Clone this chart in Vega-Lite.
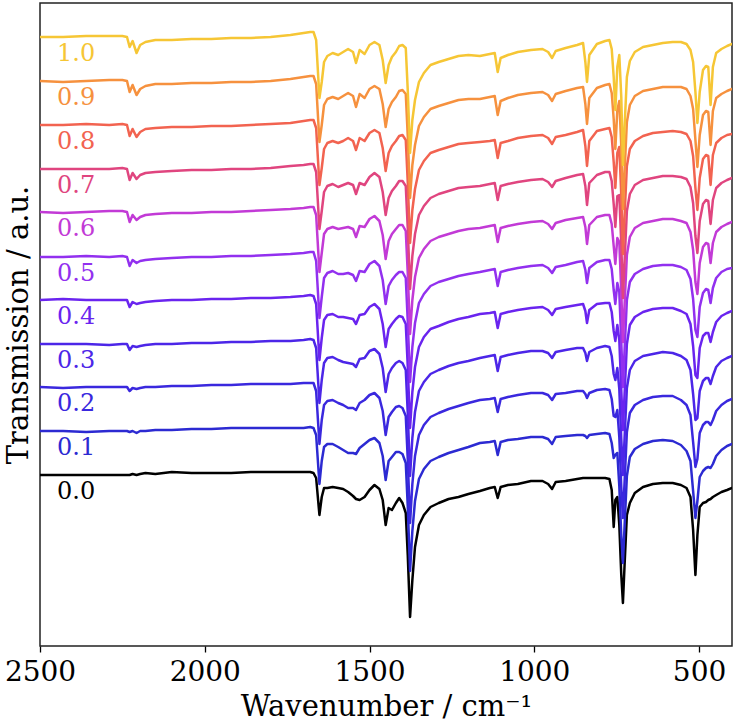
{
"$schema":"https://vega.github.io/schema/vega-lite/v6.json",
"width":692,"height":643,
"autosize":{"type":"none"},
"padding":{"left":40,"top":3,"right":4,"bottom":80},
"background":"white",
"config":{"view":{"stroke":"#222222","strokeWidth":1.5},"font":"DejaVu Serif"},
"data":{"values":[
{"s":"0.0","w":2500,"v":171},{"s":"0.0","w":2430,"v":171},{"s":"0.0","w":2360,"v":171},{"s":"0.0","w":2290,"v":171},{"s":"0.0","w":2250,"v":171},{"s":"0.0","w":2236,"v":171},{"s":"0.0","w":2228,"v":171},{"s":"0.0","w":2219,"v":172},{"s":"0.0","w":2207,"v":171},{"s":"0.0","w":2196,"v":172},
{"s":"0.0","w":2180,"v":173},{"s":"0.0","w":2150,"v":172},{"s":"0.0","w":2100,"v":174},{"s":"0.0","w":2040,"v":173},{"s":"0.0","w":1980,"v":173},{"s":"0.0","w":1920,"v":173},{"s":"0.0","w":1860,"v":174},{"s":"0.0","w":1800,"v":174},{"s":"0.0","w":1740,"v":174},{"s":"0.0","w":1700,"v":174},
{"s":"0.0","w":1680,"v":174},{"s":"0.0","w":1670,"v":173},{"s":"0.0","w":1662,"v":168},{"s":"0.0","w":1652,"v":131},{"s":"0.0","w":1645,"v":149},{"s":"0.0","w":1638,"v":158},{"s":"0.0","w":1628,"v":158},{"s":"0.0","w":1612,"v":159},{"s":"0.0","w":1595,"v":158},{"s":"0.0","w":1580,"v":157},
{"s":"0.0","w":1565,"v":154},{"s":"0.0","w":1550,"v":150},{"s":"0.0","w":1541,"v":147},{"s":"0.0","w":1530,"v":146},{"s":"0.0","w":1515,"v":149},{"s":"0.0","w":1500,"v":156},{"s":"0.0","w":1485,"v":161},{"s":"0.0","w":1470,"v":157},{"s":"0.0","w":1460,"v":146},{"s":"0.0","w":1451,"v":121},
{"s":"0.0","w":1442,"v":138},{"s":"0.0","w":1432,"v":136},{"s":"0.0","w":1420,"v":143},{"s":"0.0","w":1410,"v":148},{"s":"0.0","w":1400,"v":143},{"s":"0.0","w":1390,"v":133},{"s":"0.0","w":1384,"v":91},{"s":"0.0","w":1377,"v":29},{"s":"0.0","w":1370,"v":66},{"s":"0.0","w":1362,"v":99},
{"s":"0.0","w":1350,"v":121},{"s":"0.0","w":1335,"v":131},{"s":"0.0","w":1315,"v":139},{"s":"0.0","w":1290,"v":143},{"s":"0.0","w":1260,"v":147},{"s":"0.0","w":1230,"v":149},{"s":"0.0","w":1200,"v":152},{"s":"0.0","w":1165,"v":155},{"s":"0.0","w":1135,"v":158},{"s":"0.0","w":1120,"v":159},
{"s":"0.0","w":1111,"v":148},{"s":"0.0","w":1102,"v":159},{"s":"0.0","w":1080,"v":161},{"s":"0.0","w":1050,"v":162},{"s":"0.0","w":1010,"v":165},{"s":"0.0","w":975,"v":165},{"s":"0.0","w":958,"v":162},{"s":"0.0","w":946,"v":157},{"s":"0.0","w":935,"v":164},{"s":"0.0","w":905,"v":165},
{"s":"0.0","w":870,"v":167},{"s":"0.0","w":852,"v":168},{"s":"0.0","w":845,"v":168},{"s":"0.0","w":840,"v":168},{"s":"0.0","w":833,"v":168},{"s":"0.0","w":810,"v":168},{"s":"0.0","w":785,"v":168},{"s":"0.0","w":772,"v":167},{"s":"0.0","w":765,"v":156},{"s":"0.0","w":759,"v":119},
{"s":"0.0","w":754,"v":146},{"s":"0.0","w":748,"v":149},{"s":"0.0","w":742,"v":121},{"s":"0.0","w":736,"v":71},{"s":"0.0","w":731,"v":43},{"s":"0.0","w":726,"v":81},{"s":"0.0","w":719,"v":131},{"s":"0.0","w":710,"v":143},{"s":"0.0","w":695,"v":153},{"s":"0.0","w":670,"v":159},
{"s":"0.0","w":640,"v":162},{"s":"0.0","w":610,"v":163},{"s":"0.0","w":580,"v":163},{"s":"0.0","w":555,"v":161},{"s":"0.0","w":538,"v":158},{"s":"0.0","w":526,"v":149},{"s":"0.0","w":518,"v":116},{"s":"0.0","w":511,"v":71},{"s":"0.0","w":505,"v":111},{"s":"0.0","w":498,"v":139},
{"s":"0.0","w":488,"v":143},{"s":"0.0","w":479,"v":144},{"s":"0.0","w":472,"v":146},{"s":"0.0","w":465,"v":147},{"s":"0.0","w":458,"v":149},{"s":"0.0","w":448,"v":151},{"s":"0.0","w":432,"v":154},{"s":"0.0","w":415,"v":156},{"s":"0.0","w":400,"v":158},

{"s":"0.1","w":2500,"v":215},{"s":"0.1","w":2430,"v":215},{"s":"0.1","w":2360,"v":214},{"s":"0.1","w":2290,"v":215},{"s":"0.1","w":2250,"v":215},{"s":"0.1","w":2236,"v":215},{"s":"0.1","w":2228,"v":214},{"s":"0.1","w":2219,"v":215},{"s":"0.1","w":2207,"v":213},{"s":"0.1","w":2196,"v":215},
{"s":"0.1","w":2180,"v":215},{"s":"0.1","w":2150,"v":216},{"s":"0.1","w":2100,"v":216},{"s":"0.1","w":2040,"v":217},{"s":"0.1","w":1980,"v":217},{"s":"0.1","w":1920,"v":218},{"s":"0.1","w":1860,"v":218},{"s":"0.1","w":1800,"v":218},{"s":"0.1","w":1740,"v":218},{"s":"0.1","w":1700,"v":218},
{"s":"0.1","w":1680,"v":219},{"s":"0.1","w":1670,"v":218},{"s":"0.1","w":1662,"v":211},{"s":"0.1","w":1652,"v":162},{"s":"0.1","w":1645,"v":185},{"s":"0.1","w":1638,"v":199},{"s":"0.1","w":1628,"v":202},{"s":"0.1","w":1612,"v":202},{"s":"0.1","w":1595,"v":199},{"s":"0.1","w":1580,"v":196},
{"s":"0.1","w":1565,"v":193},{"s":"0.1","w":1550,"v":193},{"s":"0.1","w":1541,"v":192},{"s":"0.1","w":1530,"v":198},{"s":"0.1","w":1515,"v":202},{"s":"0.1","w":1500,"v":206},{"s":"0.1","w":1485,"v":208},{"s":"0.1","w":1470,"v":203},{"s":"0.1","w":1460,"v":190},{"s":"0.1","w":1451,"v":166},
{"s":"0.1","w":1442,"v":185},{"s":"0.1","w":1432,"v":189},{"s":"0.1","w":1420,"v":194},{"s":"0.1","w":1410,"v":194},{"s":"0.1","w":1400,"v":192},{"s":"0.1","w":1390,"v":183},{"s":"0.1","w":1384,"v":140},{"s":"0.1","w":1377,"v":75},{"s":"0.1","w":1370,"v":115},{"s":"0.1","w":1362,"v":145},
{"s":"0.1","w":1350,"v":167},{"s":"0.1","w":1335,"v":177},{"s":"0.1","w":1315,"v":185},{"s":"0.1","w":1290,"v":189},{"s":"0.1","w":1260,"v":193},{"s":"0.1","w":1230,"v":196},{"s":"0.1","w":1200,"v":199},{"s":"0.1","w":1165,"v":203},{"s":"0.1","w":1135,"v":204},{"s":"0.1","w":1120,"v":205},
{"s":"0.1","w":1111,"v":191},{"s":"0.1","w":1102,"v":204},{"s":"0.1","w":1080,"v":206},{"s":"0.1","w":1050,"v":207},{"s":"0.1","w":1010,"v":209},{"s":"0.1","w":975,"v":209},{"s":"0.1","w":958,"v":207},{"s":"0.1","w":946,"v":202},{"s":"0.1","w":935,"v":209},{"s":"0.1","w":905,"v":210},
{"s":"0.1","w":870,"v":211},{"s":"0.1","w":852,"v":211},{"s":"0.1","w":845,"v":210},{"s":"0.1","w":840,"v":208},{"s":"0.1","w":833,"v":211},{"s":"0.1","w":810,"v":212},{"s":"0.1","w":785,"v":213},{"s":"0.1","w":772,"v":212},{"s":"0.1","w":765,"v":203},{"s":"0.1","w":759,"v":188},
{"s":"0.1","w":754,"v":191},{"s":"0.1","w":748,"v":193},{"s":"0.1","w":742,"v":160},{"s":"0.1","w":736,"v":110},{"s":"0.1","w":731,"v":83},{"s":"0.1","w":726,"v":120},{"s":"0.1","w":719,"v":170},{"s":"0.1","w":710,"v":189},{"s":"0.1","w":695,"v":197},{"s":"0.1","w":670,"v":202},
{"s":"0.1","w":640,"v":205},{"s":"0.1","w":610,"v":206},{"s":"0.1","w":580,"v":205},{"s":"0.1","w":555,"v":201},{"s":"0.1","w":538,"v":195},{"s":"0.1","w":526,"v":185},{"s":"0.1","w":518,"v":155},{"s":"0.1","w":511,"v":128},{"s":"0.1","w":505,"v":145},{"s":"0.1","w":498,"v":169},
{"s":"0.1","w":488,"v":175},{"s":"0.1","w":479,"v":178},{"s":"0.1","w":472,"v":179},{"s":"0.1","w":465,"v":178},{"s":"0.1","w":458,"v":182},{"s":"0.1","w":448,"v":190},{"s":"0.1","w":432,"v":196},{"s":"0.1","w":415,"v":200},{"s":"0.1","w":400,"v":202},

{"s":"0.2","w":2500,"v":259},{"s":"0.2","w":2430,"v":258},{"s":"0.2","w":2360,"v":259},{"s":"0.2","w":2290,"v":259},{"s":"0.2","w":2250,"v":259},{"s":"0.2","w":2236,"v":259},{"s":"0.2","w":2228,"v":255},{"s":"0.2","w":2219,"v":258},{"s":"0.2","w":2207,"v":257},{"s":"0.2","w":2196,"v":258},
{"s":"0.2","w":2180,"v":259},{"s":"0.2","w":2150,"v":259},{"s":"0.2","w":2100,"v":260},{"s":"0.2","w":2040,"v":260},{"s":"0.2","w":1980,"v":261},{"s":"0.2","w":1920,"v":261},{"s":"0.2","w":1860,"v":262},{"s":"0.2","w":1800,"v":262},{"s":"0.2","w":1740,"v":262},{"s":"0.2","w":1700,"v":263},
{"s":"0.2","w":1680,"v":263},{"s":"0.2","w":1670,"v":263},{"s":"0.2","w":1662,"v":255},{"s":"0.2","w":1652,"v":202},{"s":"0.2","w":1645,"v":226},{"s":"0.2","w":1638,"v":241},{"s":"0.2","w":1628,"v":245},{"s":"0.2","w":1612,"v":246},{"s":"0.2","w":1595,"v":243},{"s":"0.2","w":1580,"v":241},
{"s":"0.2","w":1565,"v":238},{"s":"0.2","w":1550,"v":238},{"s":"0.2","w":1541,"v":236},{"s":"0.2","w":1530,"v":243},{"s":"0.2","w":1515,"v":246},{"s":"0.2","w":1500,"v":251},{"s":"0.2","w":1485,"v":253},{"s":"0.2","w":1470,"v":248},{"s":"0.2","w":1460,"v":235},{"s":"0.2","w":1451,"v":211},
{"s":"0.2","w":1442,"v":229},{"s":"0.2","w":1432,"v":234},{"s":"0.2","w":1420,"v":239},{"s":"0.2","w":1410,"v":240},{"s":"0.2","w":1400,"v":238},{"s":"0.2","w":1390,"v":230},{"s":"0.2","w":1384,"v":187},{"s":"0.2","w":1377,"v":123},{"s":"0.2","w":1370,"v":162},{"s":"0.2","w":1362,"v":190},
{"s":"0.2","w":1350,"v":211},{"s":"0.2","w":1335,"v":221},{"s":"0.2","w":1315,"v":229},{"s":"0.2","w":1290,"v":233},{"s":"0.2","w":1260,"v":237},{"s":"0.2","w":1230,"v":240},{"s":"0.2","w":1200,"v":243},{"s":"0.2","w":1165,"v":246},{"s":"0.2","w":1135,"v":247},{"s":"0.2","w":1120,"v":248},
{"s":"0.2","w":1111,"v":234},{"s":"0.2","w":1102,"v":247},{"s":"0.2","w":1080,"v":249},{"s":"0.2","w":1050,"v":251},{"s":"0.2","w":1010,"v":253},{"s":"0.2","w":975,"v":253},{"s":"0.2","w":958,"v":251},{"s":"0.2","w":946,"v":246},{"s":"0.2","w":935,"v":252},{"s":"0.2","w":905,"v":253},
{"s":"0.2","w":870,"v":255},{"s":"0.2","w":852,"v":255},{"s":"0.2","w":845,"v":252},{"s":"0.2","w":840,"v":248},{"s":"0.2","w":833,"v":253},{"s":"0.2","w":810,"v":256},{"s":"0.2","w":785,"v":257},{"s":"0.2","w":772,"v":256},{"s":"0.2","w":765,"v":247},{"s":"0.2","w":759,"v":230},
{"s":"0.2","w":754,"v":229},{"s":"0.2","w":748,"v":236},{"s":"0.2","w":742,"v":209},{"s":"0.2","w":736,"v":159},{"s":"0.2","w":731,"v":128},{"s":"0.2","w":726,"v":164},{"s":"0.2","w":719,"v":214},{"s":"0.2","w":710,"v":233},{"s":"0.2","w":695,"v":241},{"s":"0.2","w":670,"v":246},
{"s":"0.2","w":640,"v":249},{"s":"0.2","w":610,"v":250},{"s":"0.2","w":580,"v":250},{"s":"0.2","w":555,"v":246},{"s":"0.2","w":538,"v":241},{"s":"0.2","w":526,"v":231},{"s":"0.2","w":518,"v":204},{"s":"0.2","w":511,"v":179},{"s":"0.2","w":505,"v":187},{"s":"0.2","w":498,"v":213},
{"s":"0.2","w":488,"v":221},{"s":"0.2","w":479,"v":224},{"s":"0.2","w":472,"v":224},{"s":"0.2","w":465,"v":221},{"s":"0.2","w":458,"v":226},{"s":"0.2","w":448,"v":235},{"s":"0.2","w":432,"v":241},{"s":"0.2","w":415,"v":245},{"s":"0.2","w":400,"v":247},

{"s":"0.3","w":2500,"v":302},{"s":"0.3","w":2430,"v":302},{"s":"0.3","w":2360,"v":302},{"s":"0.3","w":2290,"v":301},{"s":"0.3","w":2250,"v":302},{"s":"0.3","w":2236,"v":302},{"s":"0.3","w":2228,"v":296},{"s":"0.3","w":2219,"v":300},{"s":"0.3","w":2207,"v":299},{"s":"0.3","w":2196,"v":300},
{"s":"0.3","w":2180,"v":301},{"s":"0.3","w":2150,"v":302},{"s":"0.3","w":2100,"v":302},{"s":"0.3","w":2040,"v":303},{"s":"0.3","w":1980,"v":303},{"s":"0.3","w":1920,"v":304},{"s":"0.3","w":1860,"v":304},{"s":"0.3","w":1800,"v":305},{"s":"0.3","w":1740,"v":305},{"s":"0.3","w":1700,"v":306},
{"s":"0.3","w":1680,"v":307},{"s":"0.3","w":1670,"v":306},{"s":"0.3","w":1662,"v":298},{"s":"0.3","w":1652,"v":243},{"s":"0.3","w":1645,"v":266},{"s":"0.3","w":1638,"v":283},{"s":"0.3","w":1628,"v":288},{"s":"0.3","w":1612,"v":289},{"s":"0.3","w":1595,"v":286},{"s":"0.3","w":1580,"v":284},
{"s":"0.3","w":1565,"v":283},{"s":"0.3","w":1550,"v":282},{"s":"0.3","w":1541,"v":279},{"s":"0.3","w":1530,"v":287},{"s":"0.3","w":1515,"v":288},{"s":"0.3","w":1500,"v":295},{"s":"0.3","w":1485,"v":297},{"s":"0.3","w":1470,"v":292},{"s":"0.3","w":1460,"v":278},{"s":"0.3","w":1451,"v":254},
{"s":"0.3","w":1442,"v":272},{"s":"0.3","w":1432,"v":278},{"s":"0.3","w":1420,"v":283},{"s":"0.3","w":1410,"v":285},{"s":"0.3","w":1400,"v":283},{"s":"0.3","w":1390,"v":276},{"s":"0.3","w":1384,"v":233},{"s":"0.3","w":1377,"v":170},{"s":"0.3","w":1370,"v":208},{"s":"0.3","w":1362,"v":234},
{"s":"0.3","w":1350,"v":255},{"s":"0.3","w":1335,"v":264},{"s":"0.3","w":1315,"v":272},{"s":"0.3","w":1290,"v":276},{"s":"0.3","w":1260,"v":280},{"s":"0.3","w":1230,"v":283},{"s":"0.3","w":1200,"v":285},{"s":"0.3","w":1165,"v":288},{"s":"0.3","w":1135,"v":290},{"s":"0.3","w":1120,"v":291},
{"s":"0.3","w":1111,"v":275},{"s":"0.3","w":1102,"v":289},{"s":"0.3","w":1080,"v":291},{"s":"0.3","w":1050,"v":293},{"s":"0.3","w":1010,"v":295},{"s":"0.3","w":975,"v":295},{"s":"0.3","w":958,"v":293},{"s":"0.3","w":946,"v":288},{"s":"0.3","w":935,"v":294},{"s":"0.3","w":905,"v":296},
{"s":"0.3","w":870,"v":298},{"s":"0.3","w":852,"v":298},{"s":"0.3","w":845,"v":293},{"s":"0.3","w":840,"v":285},{"s":"0.3","w":833,"v":294},{"s":"0.3","w":810,"v":298},{"s":"0.3","w":785,"v":300},{"s":"0.3","w":772,"v":299},{"s":"0.3","w":765,"v":290},{"s":"0.3","w":759,"v":272},
{"s":"0.3","w":754,"v":266},{"s":"0.3","w":748,"v":278},{"s":"0.3","w":742,"v":257},{"s":"0.3","w":736,"v":207},{"s":"0.3","w":731,"v":171},{"s":"0.3","w":726,"v":208},{"s":"0.3","w":719,"v":258},{"s":"0.3","w":710,"v":276},{"s":"0.3","w":695,"v":285},{"s":"0.3","w":670,"v":290},
{"s":"0.3","w":640,"v":292},{"s":"0.3","w":610,"v":294},{"s":"0.3","w":580,"v":293},{"s":"0.3","w":555,"v":290},{"s":"0.3","w":538,"v":286},{"s":"0.3","w":526,"v":276},{"s":"0.3","w":518,"v":252},{"s":"0.3","w":511,"v":226},{"s":"0.3","w":505,"v":228},{"s":"0.3","w":498,"v":255},
{"s":"0.3","w":488,"v":265},{"s":"0.3","w":479,"v":268},{"s":"0.3","w":472,"v":268},{"s":"0.3","w":465,"v":262},{"s":"0.3","w":458,"v":270},{"s":"0.3","w":448,"v":279},{"s":"0.3","w":432,"v":285},{"s":"0.3","w":415,"v":288},{"s":"0.3","w":400,"v":290},

{"s":"0.4","w":2500,"v":346},{"s":"0.4","w":2430,"v":347},{"s":"0.4","w":2360,"v":346},{"s":"0.4","w":2290,"v":346},{"s":"0.4","w":2250,"v":346},{"s":"0.4","w":2236,"v":346},{"s":"0.4","w":2228,"v":339},{"s":"0.4","w":2219,"v":344},{"s":"0.4","w":2207,"v":342},{"s":"0.4","w":2196,"v":343},
{"s":"0.4","w":2180,"v":344},{"s":"0.4","w":2150,"v":345},{"s":"0.4","w":2100,"v":346},{"s":"0.4","w":2040,"v":346},{"s":"0.4","w":1980,"v":347},{"s":"0.4","w":1920,"v":347},{"s":"0.4","w":1860,"v":348},{"s":"0.4","w":1800,"v":348},{"s":"0.4","w":1740,"v":349},{"s":"0.4","w":1700,"v":350},
{"s":"0.4","w":1680,"v":351},{"s":"0.4","w":1670,"v":350},{"s":"0.4","w":1662,"v":342},{"s":"0.4","w":1652,"v":286},{"s":"0.4","w":1645,"v":308},{"s":"0.4","w":1638,"v":326},{"s":"0.4","w":1628,"v":331},{"s":"0.4","w":1612,"v":332},{"s":"0.4","w":1595,"v":329},{"s":"0.4","w":1580,"v":329},
{"s":"0.4","w":1565,"v":328},{"s":"0.4","w":1550,"v":327},{"s":"0.4","w":1541,"v":322},{"s":"0.4","w":1530,"v":331},{"s":"0.4","w":1515,"v":332},{"s":"0.4","w":1500,"v":339},{"s":"0.4","w":1485,"v":342},{"s":"0.4","w":1470,"v":337},{"s":"0.4","w":1460,"v":322},{"s":"0.4","w":1451,"v":299},
{"s":"0.4","w":1442,"v":317},{"s":"0.4","w":1432,"v":322},{"s":"0.4","w":1420,"v":327},{"s":"0.4","w":1410,"v":330},{"s":"0.4","w":1400,"v":329},{"s":"0.4","w":1390,"v":322},{"s":"0.4","w":1384,"v":280},{"s":"0.4","w":1377,"v":218},{"s":"0.4","w":1370,"v":254},{"s":"0.4","w":1362,"v":279},
{"s":"0.4","w":1350,"v":299},{"s":"0.4","w":1335,"v":309},{"s":"0.4","w":1315,"v":317},{"s":"0.4","w":1290,"v":320},{"s":"0.4","w":1260,"v":324},{"s":"0.4","w":1230,"v":327},{"s":"0.4","w":1200,"v":329},{"s":"0.4","w":1165,"v":332},{"s":"0.4","w":1135,"v":333},{"s":"0.4","w":1120,"v":334},
{"s":"0.4","w":1111,"v":318},{"s":"0.4","w":1102,"v":332},{"s":"0.4","w":1080,"v":334},{"s":"0.4","w":1050,"v":336},{"s":"0.4","w":1010,"v":338},{"s":"0.4","w":975,"v":339},{"s":"0.4","w":958,"v":336},{"s":"0.4","w":946,"v":331},{"s":"0.4","w":935,"v":337},{"s":"0.4","w":905,"v":339},
{"s":"0.4","w":870,"v":341},{"s":"0.4","w":852,"v":342},{"s":"0.4","w":845,"v":335},{"s":"0.4","w":840,"v":323},{"s":"0.4","w":833,"v":336},{"s":"0.4","w":810,"v":342},{"s":"0.4","w":785,"v":343},{"s":"0.4","w":772,"v":343},{"s":"0.4","w":765,"v":334},{"s":"0.4","w":759,"v":315},
{"s":"0.4","w":754,"v":305},{"s":"0.4","w":748,"v":321},{"s":"0.4","w":742,"v":306},{"s":"0.4","w":736,"v":256},{"s":"0.4","w":731,"v":216},{"s":"0.4","w":726,"v":252},{"s":"0.4","w":719,"v":302},{"s":"0.4","w":710,"v":321},{"s":"0.4","w":695,"v":329},{"s":"0.4","w":670,"v":334},
{"s":"0.4","w":640,"v":337},{"s":"0.4","w":610,"v":338},{"s":"0.4","w":580,"v":338},{"s":"0.4","w":555,"v":335},{"s":"0.4","w":538,"v":332},{"s":"0.4","w":526,"v":322},{"s":"0.4","w":518,"v":300},{"s":"0.4","w":511,"v":271},{"s":"0.4","w":505,"v":268},{"s":"0.4","w":498,"v":298},
{"s":"0.4","w":488,"v":310},{"s":"0.4","w":479,"v":313},{"s":"0.4","w":472,"v":313},{"s":"0.4","w":465,"v":304},{"s":"0.4","w":458,"v":314},{"s":"0.4","w":448,"v":324},{"s":"0.4","w":432,"v":330},{"s":"0.4","w":415,"v":333},{"s":"0.4","w":400,"v":335},

{"s":"0.5","w":2500,"v":389},{"s":"0.5","w":2430,"v":389},{"s":"0.5","w":2360,"v":390},{"s":"0.5","w":2290,"v":389},{"s":"0.5","w":2250,"v":390},{"s":"0.5","w":2236,"v":389},{"s":"0.5","w":2228,"v":380},{"s":"0.5","w":2219,"v":386},{"s":"0.5","w":2207,"v":383},{"s":"0.5","w":2196,"v":385},
{"s":"0.5","w":2180,"v":386},{"s":"0.5","w":2150,"v":387},{"s":"0.5","w":2100,"v":388},{"s":"0.5","w":2040,"v":389},{"s":"0.5","w":1980,"v":389},{"s":"0.5","w":1920,"v":390},{"s":"0.5","w":1860,"v":390},{"s":"0.5","w":1800,"v":391},{"s":"0.5","w":1740,"v":392},{"s":"0.5","w":1700,"v":393},
{"s":"0.5","w":1680,"v":394},{"s":"0.5","w":1670,"v":394},{"s":"0.5","w":1662,"v":385},{"s":"0.5","w":1652,"v":328},{"s":"0.5","w":1645,"v":349},{"s":"0.5","w":1638,"v":368},{"s":"0.5","w":1628,"v":373},{"s":"0.5","w":1612,"v":375},{"s":"0.5","w":1595,"v":372},{"s":"0.5","w":1580,"v":372},
{"s":"0.5","w":1565,"v":373},{"s":"0.5","w":1550,"v":371},{"s":"0.5","w":1541,"v":365},{"s":"0.5","w":1530,"v":375},{"s":"0.5","w":1515,"v":374},{"s":"0.5","w":1500,"v":382},{"s":"0.5","w":1485,"v":385},{"s":"0.5","w":1470,"v":380},{"s":"0.5","w":1460,"v":366},{"s":"0.5","w":1451,"v":342},
{"s":"0.5","w":1442,"v":360},{"s":"0.5","w":1432,"v":366},{"s":"0.5","w":1420,"v":371},{"s":"0.5","w":1410,"v":374},{"s":"0.5","w":1400,"v":374},{"s":"0.5","w":1390,"v":368},{"s":"0.5","w":1384,"v":325},{"s":"0.5","w":1377,"v":264},{"s":"0.5","w":1370,"v":299},{"s":"0.5","w":1362,"v":323},
{"s":"0.5","w":1350,"v":343},{"s":"0.5","w":1335,"v":352},{"s":"0.5","w":1315,"v":360},{"s":"0.5","w":1290,"v":364},{"s":"0.5","w":1260,"v":367},{"s":"0.5","w":1230,"v":370},{"s":"0.5","w":1200,"v":372},{"s":"0.5","w":1165,"v":374},{"s":"0.5","w":1135,"v":376},{"s":"0.5","w":1120,"v":377},
{"s":"0.5","w":1111,"v":360},{"s":"0.5","w":1102,"v":374},{"s":"0.5","w":1080,"v":376},{"s":"0.5","w":1050,"v":378},{"s":"0.5","w":1010,"v":380},{"s":"0.5","w":975,"v":381},{"s":"0.5","w":958,"v":378},{"s":"0.5","w":946,"v":373},{"s":"0.5","w":935,"v":379},{"s":"0.5","w":905,"v":381},
{"s":"0.5","w":870,"v":384},{"s":"0.5","w":852,"v":385},{"s":"0.5","w":845,"v":376},{"s":"0.5","w":840,"v":363},{"s":"0.5","w":833,"v":378},{"s":"0.5","w":810,"v":384},{"s":"0.5","w":785,"v":386},{"s":"0.5","w":772,"v":386},{"s":"0.5","w":765,"v":377},{"s":"0.5","w":759,"v":356},
{"s":"0.5","w":754,"v":342},{"s":"0.5","w":748,"v":363},{"s":"0.5","w":742,"v":354},{"s":"0.5","w":736,"v":304},{"s":"0.5","w":731,"v":259},{"s":"0.5","w":726,"v":296},{"s":"0.5","w":719,"v":346},{"s":"0.5","w":710,"v":364},{"s":"0.5","w":695,"v":372},{"s":"0.5","w":670,"v":377},
{"s":"0.5","w":640,"v":380},{"s":"0.5","w":610,"v":381},{"s":"0.5","w":580,"v":381},{"s":"0.5","w":555,"v":379},{"s":"0.5","w":538,"v":376},{"s":"0.5","w":526,"v":367},{"s":"0.5","w":518,"v":347},{"s":"0.5","w":511,"v":316},{"s":"0.5","w":505,"v":309},{"s":"0.5","w":498,"v":339},
{"s":"0.5","w":488,"v":353},{"s":"0.5","w":479,"v":357},{"s":"0.5","w":472,"v":356},{"s":"0.5","w":465,"v":343},{"s":"0.5","w":458,"v":358},{"s":"0.5","w":448,"v":368},{"s":"0.5","w":432,"v":374},{"s":"0.5","w":415,"v":377},{"s":"0.5","w":400,"v":378},

{"s":"0.6","w":2500,"v":434},{"s":"0.6","w":2430,"v":433},{"s":"0.6","w":2360,"v":434},{"s":"0.6","w":2290,"v":435},{"s":"0.6","w":2250,"v":435},{"s":"0.6","w":2236,"v":434},{"s":"0.6","w":2228,"v":424},{"s":"0.6","w":2219,"v":431},{"s":"0.6","w":2207,"v":426},{"s":"0.6","w":2196,"v":429},
{"s":"0.6","w":2180,"v":431},{"s":"0.6","w":2150,"v":432},{"s":"0.6","w":2100,"v":433},{"s":"0.6","w":2040,"v":433},{"s":"0.6","w":1980,"v":434},{"s":"0.6","w":1920,"v":434},{"s":"0.6","w":1860,"v":435},{"s":"0.6","w":1800,"v":436},{"s":"0.6","w":1740,"v":437},{"s":"0.6","w":1700,"v":438},
{"s":"0.6","w":1680,"v":439},{"s":"0.6","w":1670,"v":439},{"s":"0.6","w":1662,"v":431},{"s":"0.6","w":1652,"v":374},{"s":"0.6","w":1645,"v":393},{"s":"0.6","w":1638,"v":412},{"s":"0.6","w":1628,"v":417},{"s":"0.6","w":1612,"v":419},{"s":"0.6","w":1595,"v":417},{"s":"0.6","w":1580,"v":418},
{"s":"0.6","w":1565,"v":419},{"s":"0.6","w":1550,"v":417},{"s":"0.6","w":1541,"v":409},{"s":"0.6","w":1530,"v":420},{"s":"0.6","w":1515,"v":419},{"s":"0.6","w":1500,"v":427},{"s":"0.6","w":1485,"v":430},{"s":"0.6","w":1470,"v":425},{"s":"0.6","w":1460,"v":411},{"s":"0.6","w":1451,"v":387},
{"s":"0.6","w":1442,"v":405},{"s":"0.6","w":1432,"v":412},{"s":"0.6","w":1420,"v":417},{"s":"0.6","w":1410,"v":421},{"s":"0.6","w":1400,"v":421},{"s":"0.6","w":1390,"v":415},{"s":"0.6","w":1384,"v":373},{"s":"0.6","w":1377,"v":312},{"s":"0.6","w":1370,"v":346},{"s":"0.6","w":1362,"v":369},
{"s":"0.6","w":1350,"v":388},{"s":"0.6","w":1335,"v":397},{"s":"0.6","w":1315,"v":405},{"s":"0.6","w":1290,"v":409},{"s":"0.6","w":1260,"v":412},{"s":"0.6","w":1230,"v":415},{"s":"0.6","w":1200,"v":417},{"s":"0.6","w":1165,"v":418},{"s":"0.6","w":1135,"v":420},{"s":"0.6","w":1120,"v":421},
{"s":"0.6","w":1111,"v":404},{"s":"0.6","w":1102,"v":418},{"s":"0.6","w":1080,"v":420},{"s":"0.6","w":1050,"v":422},{"s":"0.6","w":1010,"v":424},{"s":"0.6","w":975,"v":425},{"s":"0.6","w":958,"v":422},{"s":"0.6","w":946,"v":417},{"s":"0.6","w":935,"v":423},{"s":"0.6","w":905,"v":426},
{"s":"0.6","w":870,"v":428},{"s":"0.6","w":852,"v":429},{"s":"0.6","w":845,"v":419},{"s":"0.6","w":840,"v":402},{"s":"0.6","w":833,"v":421},{"s":"0.6","w":810,"v":429},{"s":"0.6","w":785,"v":431},{"s":"0.6","w":772,"v":431},{"s":"0.6","w":765,"v":422},{"s":"0.6","w":759,"v":400},
{"s":"0.6","w":754,"v":382},{"s":"0.6","w":748,"v":408},{"s":"0.6","w":742,"v":404},{"s":"0.6","w":736,"v":354},{"s":"0.6","w":731,"v":304},{"s":"0.6","w":726,"v":341},{"s":"0.6","w":719,"v":391},{"s":"0.6","w":710,"v":409},{"s":"0.6","w":695,"v":418},{"s":"0.6","w":670,"v":423},
{"s":"0.6","w":640,"v":425},{"s":"0.6","w":610,"v":427},{"s":"0.6","w":580,"v":427},{"s":"0.6","w":555,"v":425},{"s":"0.6","w":538,"v":423},{"s":"0.6","w":526,"v":414},{"s":"0.6","w":518,"v":396},{"s":"0.6","w":511,"v":364},{"s":"0.6","w":505,"v":352},{"s":"0.6","w":498,"v":383},
{"s":"0.6","w":488,"v":399},{"s":"0.6","w":479,"v":403},{"s":"0.6","w":472,"v":402},{"s":"0.6","w":465,"v":383},{"s":"0.6","w":458,"v":403},{"s":"0.6","w":448,"v":414},{"s":"0.6","w":432,"v":419},{"s":"0.6","w":415,"v":422},{"s":"0.6","w":400,"v":424},

{"s":"0.7","w":2500,"v":477},{"s":"0.7","w":2430,"v":477},{"s":"0.7","w":2360,"v":477},{"s":"0.7","w":2290,"v":477},{"s":"0.7","w":2250,"v":478},{"s":"0.7","w":2236,"v":477},{"s":"0.7","w":2228,"v":466},{"s":"0.7","w":2219,"v":473},{"s":"0.7","w":2207,"v":467},{"s":"0.7","w":2196,"v":471},
{"s":"0.7","w":2180,"v":473},{"s":"0.7","w":2150,"v":474},{"s":"0.7","w":2100,"v":475},{"s":"0.7","w":2040,"v":476},{"s":"0.7","w":1980,"v":476},{"s":"0.7","w":1920,"v":477},{"s":"0.7","w":1860,"v":477},{"s":"0.7","w":1800,"v":478},{"s":"0.7","w":1740,"v":480},{"s":"0.7","w":1700,"v":481},
{"s":"0.7","w":1680,"v":482},{"s":"0.7","w":1670,"v":482},{"s":"0.7","w":1662,"v":474},{"s":"0.7","w":1652,"v":417},{"s":"0.7","w":1645,"v":435},{"s":"0.7","w":1638,"v":454},{"s":"0.7","w":1628,"v":460},{"s":"0.7","w":1612,"v":462},{"s":"0.7","w":1595,"v":459},{"s":"0.7","w":1580,"v":461},
{"s":"0.7","w":1565,"v":463},{"s":"0.7","w":1550,"v":461},{"s":"0.7","w":1541,"v":452},{"s":"0.7","w":1530,"v":463},{"s":"0.7","w":1515,"v":461},{"s":"0.7","w":1500,"v":469},{"s":"0.7","w":1485,"v":473},{"s":"0.7","w":1470,"v":469},{"s":"0.7","w":1460,"v":454},{"s":"0.7","w":1451,"v":431},
{"s":"0.7","w":1442,"v":448},{"s":"0.7","w":1432,"v":455},{"s":"0.7","w":1420,"v":460},{"s":"0.7","w":1410,"v":465},{"s":"0.7","w":1400,"v":465},{"s":"0.7","w":1390,"v":460},{"s":"0.7","w":1384,"v":418},{"s":"0.7","w":1377,"v":357},{"s":"0.7","w":1370,"v":390},{"s":"0.7","w":1362,"v":412},
{"s":"0.7","w":1350,"v":431},{"s":"0.7","w":1335,"v":440},{"s":"0.7","w":1315,"v":448},{"s":"0.7","w":1290,"v":452},{"s":"0.7","w":1260,"v":455},{"s":"0.7","w":1230,"v":458},{"s":"0.7","w":1200,"v":459},{"s":"0.7","w":1165,"v":460},{"s":"0.7","w":1135,"v":462},{"s":"0.7","w":1120,"v":463},
{"s":"0.7","w":1111,"v":446},{"s":"0.7","w":1102,"v":460},{"s":"0.7","w":1080,"v":462},{"s":"0.7","w":1050,"v":464},{"s":"0.7","w":1010,"v":466},{"s":"0.7","w":975,"v":467},{"s":"0.7","w":958,"v":464},{"s":"0.7","w":946,"v":459},{"s":"0.7","w":935,"v":465},{"s":"0.7","w":905,"v":468},
{"s":"0.7","w":870,"v":471},{"s":"0.7","w":852,"v":472},{"s":"0.7","w":845,"v":460},{"s":"0.7","w":840,"v":441},{"s":"0.7","w":833,"v":463},{"s":"0.7","w":810,"v":471},{"s":"0.7","w":785,"v":474},{"s":"0.7","w":772,"v":474},{"s":"0.7","w":765,"v":465},{"s":"0.7","w":759,"v":442},
{"s":"0.7","w":754,"v":419},{"s":"0.7","w":748,"v":450},{"s":"0.7","w":742,"v":451},{"s":"0.7","w":736,"v":402},{"s":"0.7","w":731,"v":348},{"s":"0.7","w":726,"v":385},{"s":"0.7","w":719,"v":435},{"s":"0.7","w":710,"v":452},{"s":"0.7","w":695,"v":461},{"s":"0.7","w":670,"v":466},
{"s":"0.7","w":640,"v":468},{"s":"0.7","w":610,"v":470},{"s":"0.7","w":580,"v":470},{"s":"0.7","w":555,"v":469},{"s":"0.7","w":538,"v":467},{"s":"0.7","w":526,"v":459},{"s":"0.7","w":518,"v":443},{"s":"0.7","w":511,"v":410},{"s":"0.7","w":505,"v":393},{"s":"0.7","w":498,"v":425},
{"s":"0.7","w":488,"v":442},{"s":"0.7","w":479,"v":446},{"s":"0.7","w":472,"v":445},{"s":"0.7","w":465,"v":422},{"s":"0.7","w":458,"v":446},{"s":"0.7","w":448,"v":458},{"s":"0.7","w":432,"v":463},{"s":"0.7","w":415,"v":466},{"s":"0.7","w":400,"v":468},

{"s":"0.8","w":2500,"v":521},{"s":"0.8","w":2430,"v":521},{"s":"0.8","w":2360,"v":522},{"s":"0.8","w":2290,"v":521},{"s":"0.8","w":2250,"v":522},{"s":"0.8","w":2236,"v":521},{"s":"0.8","w":2228,"v":510},{"s":"0.8","w":2219,"v":517},{"s":"0.8","w":2207,"v":509},{"s":"0.8","w":2196,"v":514},
{"s":"0.8","w":2180,"v":517},{"s":"0.8","w":2150,"v":518},{"s":"0.8","w":2100,"v":519},{"s":"0.8","w":2040,"v":519},{"s":"0.8","w":1980,"v":520},{"s":"0.8","w":1920,"v":520},{"s":"0.8","w":1860,"v":521},{"s":"0.8","w":1800,"v":522},{"s":"0.8","w":1740,"v":523},{"s":"0.8","w":1700,"v":525},
{"s":"0.8","w":1680,"v":526},{"s":"0.8","w":1670,"v":526},{"s":"0.8","w":1662,"v":518},{"s":"0.8","w":1652,"v":461},{"s":"0.8","w":1645,"v":478},{"s":"0.8","w":1638,"v":497},{"s":"0.8","w":1628,"v":503},{"s":"0.8","w":1612,"v":505},{"s":"0.8","w":1595,"v":503},{"s":"0.8","w":1580,"v":505},
{"s":"0.8","w":1565,"v":508},{"s":"0.8","w":1550,"v":505},{"s":"0.8","w":1541,"v":496},{"s":"0.8","w":1530,"v":508},{"s":"0.8","w":1515,"v":505},{"s":"0.8","w":1500,"v":513},{"s":"0.8","w":1485,"v":516},{"s":"0.8","w":1470,"v":513},{"s":"0.8","w":1460,"v":498},{"s":"0.8","w":1451,"v":475},
{"s":"0.8","w":1442,"v":493},{"s":"0.8","w":1432,"v":500},{"s":"0.8","w":1420,"v":505},{"s":"0.8","w":1410,"v":510},{"s":"0.8","w":1400,"v":511},{"s":"0.8","w":1390,"v":506},{"s":"0.8","w":1384,"v":464},{"s":"0.8","w":1377,"v":403},{"s":"0.8","w":1370,"v":436},{"s":"0.8","w":1362,"v":457},
{"s":"0.8","w":1350,"v":476},{"s":"0.8","w":1335,"v":485},{"s":"0.8","w":1315,"v":493},{"s":"0.8","w":1290,"v":496},{"s":"0.8","w":1260,"v":499},{"s":"0.8","w":1230,"v":502},{"s":"0.8","w":1200,"v":503},{"s":"0.8","w":1165,"v":504},{"s":"0.8","w":1135,"v":505},{"s":"0.8","w":1120,"v":506},
{"s":"0.8","w":1111,"v":488},{"s":"0.8","w":1102,"v":503},{"s":"0.8","w":1080,"v":505},{"s":"0.8","w":1050,"v":508},{"s":"0.8","w":1010,"v":510},{"s":"0.8","w":975,"v":511},{"s":"0.8","w":958,"v":508},{"s":"0.8","w":946,"v":502},{"s":"0.8","w":935,"v":509},{"s":"0.8","w":905,"v":511},
{"s":"0.8","w":870,"v":514},{"s":"0.8","w":852,"v":516},{"s":"0.8","w":845,"v":500},{"s":"0.8","w":840,"v":480},{"s":"0.8","w":833,"v":505},{"s":"0.8","w":810,"v":515},{"s":"0.8","w":785,"v":517},{"s":"0.8","w":772,"v":518},{"s":"0.8","w":765,"v":509},{"s":"0.8","w":759,"v":484},
{"s":"0.8","w":754,"v":458},{"s":"0.8","w":748,"v":493},{"s":"0.8","w":742,"v":499},{"s":"0.8","w":736,"v":451},{"s":"0.8","w":731,"v":392},{"s":"0.8","w":726,"v":430},{"s":"0.8","w":719,"v":480},{"s":"0.8","w":710,"v":497},{"s":"0.8","w":695,"v":505},{"s":"0.8","w":670,"v":510},
{"s":"0.8","w":640,"v":513},{"s":"0.8","w":610,"v":514},{"s":"0.8","w":580,"v":515},{"s":"0.8","w":555,"v":514},{"s":"0.8","w":538,"v":512},{"s":"0.8","w":526,"v":505},{"s":"0.8","w":518,"v":490},{"s":"0.8","w":511,"v":458},{"s":"0.8","w":505,"v":436},{"s":"0.8","w":498,"v":468},
{"s":"0.8","w":488,"v":487},{"s":"0.8","w":479,"v":491},{"s":"0.8","w":472,"v":490},{"s":"0.8","w":465,"v":461},{"s":"0.8","w":458,"v":491},{"s":"0.8","w":448,"v":503},{"s":"0.8","w":432,"v":508},{"s":"0.8","w":415,"v":511},{"s":"0.8","w":400,"v":512},

{"s":"0.9","w":2500,"v":565},{"s":"0.9","w":2430,"v":564},{"s":"0.9","w":2360,"v":565},{"s":"0.9","w":2290,"v":566},{"s":"0.9","w":2250,"v":566},{"s":"0.9","w":2236,"v":565},{"s":"0.9","w":2228,"v":554},{"s":"0.9","w":2219,"v":561},{"s":"0.9","w":2207,"v":551},{"s":"0.9","w":2196,"v":557},
{"s":"0.9","w":2180,"v":560},{"s":"0.9","w":2150,"v":562},{"s":"0.9","w":2100,"v":562},{"s":"0.9","w":2040,"v":563},{"s":"0.9","w":1980,"v":563},{"s":"0.9","w":1920,"v":564},{"s":"0.9","w":1860,"v":564},{"s":"0.9","w":1800,"v":565},{"s":"0.9","w":1740,"v":567},{"s":"0.9","w":1700,"v":569},
{"s":"0.9","w":1680,"v":570},{"s":"0.9","w":1670,"v":570},{"s":"0.9","w":1662,"v":562},{"s":"0.9","w":1652,"v":504},{"s":"0.9","w":1645,"v":521},{"s":"0.9","w":1638,"v":541},{"s":"0.9","w":1628,"v":547},{"s":"0.9","w":1612,"v":549},{"s":"0.9","w":1595,"v":547},{"s":"0.9","w":1580,"v":550},
{"s":"0.9","w":1565,"v":553},{"s":"0.9","w":1550,"v":550},{"s":"0.9","w":1541,"v":539},{"s":"0.9","w":1530,"v":552},{"s":"0.9","w":1515,"v":548},{"s":"0.9","w":1500,"v":557},{"s":"0.9","w":1485,"v":560},{"s":"0.9","w":1470,"v":557},{"s":"0.9","w":1460,"v":542},{"s":"0.9","w":1451,"v":519},
{"s":"0.9","w":1442,"v":537},{"s":"0.9","w":1432,"v":544},{"s":"0.9","w":1420,"v":549},{"s":"0.9","w":1410,"v":555},{"s":"0.9","w":1400,"v":556},{"s":"0.9","w":1390,"v":552},{"s":"0.9","w":1384,"v":510},{"s":"0.9","w":1377,"v":448},{"s":"0.9","w":1370,"v":481},{"s":"0.9","w":1362,"v":501},
{"s":"0.9","w":1350,"v":520},{"s":"0.9","w":1335,"v":529},{"s":"0.9","w":1315,"v":537},{"s":"0.9","w":1290,"v":540},{"s":"0.9","w":1260,"v":543},{"s":"0.9","w":1230,"v":546},{"s":"0.9","w":1200,"v":547},{"s":"0.9","w":1165,"v":547},{"s":"0.9","w":1135,"v":549},{"s":"0.9","w":1120,"v":550},
{"s":"0.9","w":1111,"v":531},{"s":"0.9","w":1102,"v":545},{"s":"0.9","w":1080,"v":548},{"s":"0.9","w":1050,"v":551},{"s":"0.9","w":1010,"v":553},{"s":"0.9","w":975,"v":554},{"s":"0.9","w":958,"v":551},{"s":"0.9","w":946,"v":545},{"s":"0.9","w":935,"v":552},{"s":"0.9","w":905,"v":555},
{"s":"0.9","w":870,"v":558},{"s":"0.9","w":852,"v":559},{"s":"0.9","w":845,"v":542},{"s":"0.9","w":840,"v":522},{"s":"0.9","w":833,"v":548},{"s":"0.9","w":810,"v":558},{"s":"0.9","w":785,"v":561},{"s":"0.9","w":772,"v":562},{"s":"0.9","w":765,"v":553},{"s":"0.9","w":759,"v":527},
{"s":"0.9","w":754,"v":497},{"s":"0.9","w":748,"v":536},{"s":"0.9","w":742,"v":545},{"s":"0.9","w":736,"v":500},{"s":"0.9","w":731,"v":437},{"s":"0.9","w":726,"v":474},{"s":"0.9","w":719,"v":524},{"s":"0.9","w":710,"v":541},{"s":"0.9","w":695,"v":550},{"s":"0.9","w":670,"v":555},
{"s":"0.9","w":640,"v":557},{"s":"0.9","w":610,"v":559},{"s":"0.9","w":580,"v":559},{"s":"0.9","w":555,"v":559},{"s":"0.9","w":538,"v":557},{"s":"0.9","w":526,"v":550},{"s":"0.9","w":518,"v":537},{"s":"0.9","w":511,"v":506},{"s":"0.9","w":505,"v":479},{"s":"0.9","w":498,"v":511},
{"s":"0.9","w":488,"v":531},{"s":"0.9","w":479,"v":535},{"s":"0.9","w":472,"v":534},{"s":"0.9","w":465,"v":501},{"s":"0.9","w":458,"v":535},{"s":"0.9","w":448,"v":548},{"s":"0.9","w":432,"v":552},{"s":"0.9","w":415,"v":555},{"s":"0.9","w":400,"v":557},

{"s":"1.0","w":2500,"v":609},{"s":"1.0","w":2430,"v":609},{"s":"1.0","w":2360,"v":610},{"s":"1.0","w":2290,"v":610},{"s":"1.0","w":2250,"v":610},{"s":"1.0","w":2236,"v":609},{"s":"1.0","w":2228,"v":599},{"s":"1.0","w":2219,"v":605},{"s":"1.0","w":2207,"v":593},{"s":"1.0","w":2196,"v":601},
{"s":"1.0","w":2180,"v":604},{"s":"1.0","w":2150,"v":606},{"s":"1.0","w":2100,"v":606},{"s":"1.0","w":2040,"v":607},{"s":"1.0","w":1980,"v":607},{"s":"1.0","w":1920,"v":608},{"s":"1.0","w":1860,"v":608},{"s":"1.0","w":1800,"v":609},{"s":"1.0","w":1740,"v":611},{"s":"1.0","w":1700,"v":613},
{"s":"1.0","w":1680,"v":614},{"s":"1.0","w":1670,"v":614},{"s":"1.0","w":1662,"v":606},{"s":"1.0","w":1652,"v":548},{"s":"1.0","w":1645,"v":564},{"s":"1.0","w":1638,"v":584},{"s":"1.0","w":1628,"v":590},{"s":"1.0","w":1612,"v":593},{"s":"1.0","w":1595,"v":591},{"s":"1.0","w":1580,"v":594},
{"s":"1.0","w":1565,"v":597},{"s":"1.0","w":1550,"v":594},{"s":"1.0","w":1541,"v":583},{"s":"1.0","w":1530,"v":596},{"s":"1.0","w":1515,"v":592},{"s":"1.0","w":1500,"v":601},{"s":"1.0","w":1485,"v":604},{"s":"1.0","w":1470,"v":601},{"s":"1.0","w":1460,"v":586},{"s":"1.0","w":1451,"v":563},
{"s":"1.0","w":1442,"v":581},{"s":"1.0","w":1432,"v":589},{"s":"1.0","w":1420,"v":594},{"s":"1.0","w":1410,"v":600},{"s":"1.0","w":1400,"v":601},{"s":"1.0","w":1390,"v":598},{"s":"1.0","w":1384,"v":556},{"s":"1.0","w":1377,"v":493},{"s":"1.0","w":1370,"v":526},{"s":"1.0","w":1362,"v":546},
{"s":"1.0","w":1350,"v":564},{"s":"1.0","w":1335,"v":573},{"s":"1.0","w":1315,"v":581},{"s":"1.0","w":1290,"v":584},{"s":"1.0","w":1260,"v":587},{"s":"1.0","w":1230,"v":590},{"s":"1.0","w":1200,"v":591},{"s":"1.0","w":1165,"v":590},{"s":"1.0","w":1135,"v":592},{"s":"1.0","w":1120,"v":593},
{"s":"1.0","w":1111,"v":574},{"s":"1.0","w":1102,"v":588},{"s":"1.0","w":1080,"v":591},{"s":"1.0","w":1050,"v":594},{"s":"1.0","w":1010,"v":596},{"s":"1.0","w":975,"v":597},{"s":"1.0","w":958,"v":594},{"s":"1.0","w":946,"v":588},{"s":"1.0","w":935,"v":595},{"s":"1.0","w":905,"v":598},
{"s":"1.0","w":870,"v":601},{"s":"1.0","w":852,"v":603},{"s":"1.0","w":845,"v":584},{"s":"1.0","w":840,"v":564},{"s":"1.0","w":833,"v":591},{"s":"1.0","w":810,"v":602},{"s":"1.0","w":785,"v":605},{"s":"1.0","w":772,"v":606},{"s":"1.0","w":765,"v":597},{"s":"1.0","w":759,"v":569},
{"s":"1.0","w":754,"v":536},{"s":"1.0","w":748,"v":579},{"s":"1.0","w":742,"v":591},{"s":"1.0","w":736,"v":549},{"s":"1.0","w":731,"v":481},{"s":"1.0","w":726,"v":519},{"s":"1.0","w":719,"v":569},{"s":"1.0","w":710,"v":585},{"s":"1.0","w":695,"v":594},{"s":"1.0","w":670,"v":599},
{"s":"1.0","w":640,"v":601},{"s":"1.0","w":610,"v":603},{"s":"1.0","w":580,"v":604},{"s":"1.0","w":555,"v":604},{"s":"1.0","w":538,"v":602},{"s":"1.0","w":526,"v":596},{"s":"1.0","w":518,"v":584},{"s":"1.0","w":511,"v":554},{"s":"1.0","w":505,"v":523},{"s":"1.0","w":498,"v":554},
{"s":"1.0","w":488,"v":576},{"s":"1.0","w":479,"v":580},{"s":"1.0","w":472,"v":579},{"s":"1.0","w":465,"v":541},{"s":"1.0","w":458,"v":579},{"s":"1.0","w":448,"v":593},{"s":"1.0","w":432,"v":597},{"s":"1.0","w":415,"v":600},{"s":"1.0","w":400,"v":602}
]},
"encoding":{
"x":{"field":"w","type":"quantitative","scale":{"domain":[2500,400],"nice":false,"zero":false},
 "axis":{"values":[2500,2000,1500,1000,500],"format":"d","title":"Wavenumber / cm⁻¹","titleFont":"DejaVu Serif","labelFont":"DejaVu Serif","titleFontSize":29,"labelFontSize":28,"titleFontWeight":"normal","titleColor":"black","labelColor":"black","tickColor":"black","tickSize":6,"tickWidth":1.3,"domain":false,"grid":false,"labelPadding":6,"titlePadding":6,"labelFlush":false,"labelOverlap":false}},
"y":{"field":"v","type":"quantitative","scale":{"domain":[0,643],"nice":false,"zero":false},
 "axis":{"title":"Transmission / a.u.","titleFont":"DejaVu Serif","titleFontSize":29,"titleFontWeight":"normal","titleColor":"black","labels":false,"ticks":false,"domain":false,"grid":false,"titlePadding":7}},
"color":{"field":"s","type":"nominal","legend":null,"scale":{"domain":["0.0","0.1","0.2","0.3","0.4","0.5","0.6","0.7","0.8","0.9","1.0"],"range":["#000000","#2c2ad2","#3a28de","#4c26e8","#6a24ef","#9230ef","#c23ad6","#e0457f","#f26350","#f6913e","#f6c635"]}}
},
"layer":[
{"mark":{"type":"line","strokeWidth":2.5,"strokeJoin":"round","strokeCap":"round","clip":true}},
{"transform":[{"filter":"datum.w == 2500"}],
 "mark":{"type":"text","align":"left","baseline":"middle","dx":17,"dy":17,"font":"DejaVu Serif","fontSize":24},
 "encoding":{"text":{"field":"s","type":"nominal"}}}
]
}
